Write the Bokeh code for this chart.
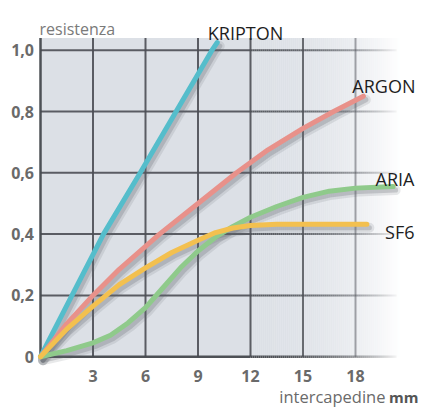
import numpy as np
from bokeh.plotting import figure
from bokeh.models import Range1d, Label
from bokeh.core.properties import value
from bokeh.embed import file_html
from bokeh.resources import INLINE

# ---------------- data ----------------
x_ticks = [3, 6, 9, 12, 15, 18]
x_tick_labels = ["3", "6", "9", "12", "15", "18"]
y_ticks = [0, 0.2, 0.4, 0.6, 0.8, 1.0]
y_tick_labels = ["0", "0,2", "0,4", "0,6", "0,8", "1,0"]

kripton_x = [0, 1.8, 3.6, 5.7, 7.75, 9.8, 10.1]
kripton_y = [0, 0.2, 0.4, 0.6, 0.8, 1.0, 1.025]

argon_x = [0, 1.5, 3.0, 4.5, 6.8, 9.0, 11.2, 13.0, 15.0, 16.75, 18.45]
argon_y = [0, 0.107, 0.2, 0.285, 0.4, 0.5, 0.6, 0.675, 0.745, 0.8, 0.85]

aria_x = [0, 1.5, 3.0, 4.0, 5.0, 6.0, 7.0, 8.0, 9.0, 10.0, 11.0, 12.0, 13.5, 15.0, 16.5, 18.0, 20.15]
aria_y = [0, 0.02, 0.045, 0.07, 0.11, 0.16, 0.225, 0.29, 0.345, 0.39, 0.425, 0.455, 0.49, 0.52, 0.54, 0.55, 0.555]

sf6_x = [0, 1.5, 3.0, 4.5, 6.0, 7.5, 9.0, 10.0, 11.0, 12.0, 13.5, 18.65]
sf6_y = [0, 0.09, 0.165, 0.235, 0.29, 0.34, 0.38, 0.405, 0.42, 0.428, 0.432, 0.432]

series = [
    ("KRIPTON", kripton_x, kripton_y, "#55bdcb"),
    ("ARGON", argon_x, argon_y, "#e8918a"),
    ("ARIA", aria_x, aria_y, "#8fca8b"),
    ("SF6", sf6_x, sf6_y, "#f3c04f"),
]

# ---------------- layout (page px -> data) ----------------
W, H = 421, 407
OFF = 0                        # Bokeh's page template uses body margin 0
SX, SY = 17.5, 306.5          # px per unit
X0PX, Y0PX = 40, 356.2        # page px of data origin

def dx(px):
    return (px - X0PX) / SX

def dy(py):
    return (Y0PX - py) / SY

xs0, xs1 = dx(OFF), dx(OFF + W)
ys0, ys1 = dy(OFF + H), dy(OFF)

GRID_TOP = dy(37.5)
GRID_RIGHT = dx(396)

p = figure(width=W, height=H, output_backend="svg", toolbar_location=None,
           x_range=Range1d(xs0, xs1), y_range=Range1d(ys0, ys1),
           min_border_left=0, min_border_bottom=0,
           min_border_right=0, min_border_top=0)
p.outline_line_color = None
p.background_fill_color = "white"
p.border_fill_color = "white"
p.grid.visible = False
p.axis.visible = False

p.extra_x_ranges = {"sh": Range1d(xs0 - 2.5 / SX, xs1 - 2.5 / SX)}
p.extra_y_ranges = {"sh": Range1d(ys0 + 3.5 / SY, ys1 + 3.5 / SY)}

def fade(px):
    return np.clip((np.asarray(px, dtype=float) - 250.0) / 150.0, 0, 1) ** 2.2

# background: solid gray part then strips fading to white
BG = np.array([220, 224, 230], dtype=float)
p.quad(left=[0], right=[dx(250)], bottom=[0], top=[GRID_TOP], fill_color="#dce0e6", line_color=None)
step_px = 2.0
lefts_px = np.arange(250, 410, step_px)
f = fade(lefts_px + step_px / 2)
cols = ["#%02x%02x%02x" % tuple(int(round(c)) for c in (BG * (1 - a) + 255 * a)) for a in f]
p.quad(left=list(dx(lefts_px)), right=list(dx(lefts_px + step_px * 1.15)),
       bottom=[0] * len(lefts_px), top=[GRID_TOP] * len(lefts_px),
       fill_color=cols, line_color=None)

# grid (multi_line)
GRID_COL = "#4b4e54"
gx, gy, ga = [], [], []
for t in x_ticks:
    gx.append([t, t]); gy.append([0, GRID_TOP])
    ga.append(0.9 * (1 - float(fade(X0PX + t * SX))))
hy = [t for t in y_ticks if t > 0]
seg_px = np.arange(250, 396, step_px)
for t in hy:
    gx.append([0, dx(250)]); gy.append([t, t]); ga.append(0.9)
    for a_px in seg_px:
        gx.append([dx(a_px), dx(a_px + step_px)]); gy.append([t, t])
        ga.append(0.9 * (1 - float(fade(a_px + step_px / 2))))
p.multi_line(xs=gx, ys=gy, line_color=GRID_COL, line_width=2, line_alpha=ga)

# axis lines
axx, axy, axa = [[0, 0], [0, dx(250)]], [[0, GRID_TOP], [0, 0]], [0.95, 0.95]
for a_px in seg_px:
    axx.append([dx(a_px), dx(a_px + step_px)]); axy.append([0, 0])
    axa.append(0.95 * (1 - float(fade(a_px + step_px / 2))))
p.multi_line(xs=axx, ys=axy, line_color="#45484d", line_width=2.5, line_alpha=axa)

# curves: shadows then lines
for name, xs, ys, col in series:
    p.line(xs, ys, x_range_name="sh", y_range_name="sh", line_color="#5e636b",
           line_alpha=0.14, line_width=10, line_join="round", line_cap="round")
    p.line(xs, ys, x_range_name="sh", y_range_name="sh", line_color="#5e636b",
           line_alpha=0.25, line_width=5, line_join="round", line_cap="round")
for name, xs, ys, col in series:
    p.line(xs, ys, line_color=col, line_width=5, line_join="round", line_cap="round")

# tick labels
TICK_COL = "#6a6a6a"
p.text(x=x_ticks, y=[dy(375.5)] * len(x_ticks), text=x_tick_labels,
       text_font=value("Open Sans"), text_font_style="bold", text_font_size="16px",
       text_color=TICK_COL, text_align="center", text_baseline="middle")
p.text(x=[dx(33.5)] * len(y_ticks), y=y_ticks, text=y_tick_labels,
       text_font=value("Open Sans"), text_font_style="bold", text_font_size="16px",
       text_color=TICK_COL, text_align="right", text_baseline="middle")

# texts
def lab(text, px, py, align, size, color="#1e1e1e", style="normal"):
    p.add_layout(Label(x=dx(px), y=dy(py), text=text, text_align=align,
                       text_baseline="alphabetic", text_font="Open Sans",
                       text_font_size=size, text_color=color, text_font_style=style))

lab("KRIPTON", 245, 32, "center", "18px")
lab("ARGON", 415, 85, "right", "18px")
lab("ARIA", 414, 178.5, "right", "18px")
lab("SF6", 414, 231.5, "right", "18px")
lab("resistenza", 39, 28, "left", "16px", color="#7a7a7a")
lab("mm", 418, 396, "right", "15px", color="#555555", style="bold")
lab("intercapedine", 385, 396, "right", "16.5px", color="#6a6a6a")

open("out.html", "w").write(file_html(p, INLINE))
